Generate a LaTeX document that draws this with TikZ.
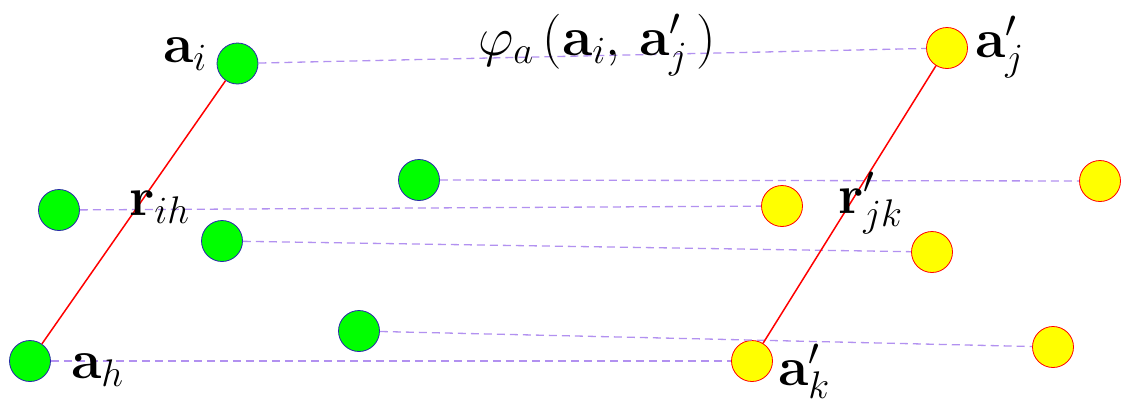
\RequirePackage{fix-cm}
\documentclass[tikz,border=0pt]{standalone}
\usepackage{amsmath}
\definecolor{lav}{RGB}{178,145,240}
\definecolor{grn}{RGB}{0,255,0}
\definecolor{ylw}{RGB}{255,255,0}
\definecolor{dblue}{RGB}{40,40,170}
\tikzset{
  gnode/.style={circle,fill=grn,draw=dblue,line width=0.8pt,minimum size=41pt,inner sep=0pt},
  ynode/.style={circle,fill=ylw,draw=red,line width=0.8pt,minimum size=41pt,inner sep=0pt},
  link/.style={draw=lav,line width=1.3pt,dash pattern=on 8pt off 5pt},
  edge/.style={draw=red,line width=1.5pt},
  lbl/.style={anchor=base west,inner sep=0pt,font=\fontsize{55}{62}\selectfont},
  flbl/.style={anchor=base west,inner sep=0pt,font=\fontsize{55}{62}\selectfont}
}
\begin{document}
\begin{tikzpicture}[x=1pt,y=-1pt]
\useasboundingbox (0,0) rectangle (1122,408);
% green nodes
\node[gnode] (ai) at (237.5,63.5) {};
\node[gnode] (g2) at (59,210) {};
\node[gnode] (g3) at (419,180) {};
\node[gnode] (g4) at (222,241) {};
\node[gnode] (ah) at (30,361) {};
\node[gnode] (g6) at (359,331) {};
% yellow nodes
\node[ynode] (aj) at (947,48) {};
\node[ynode] (y2) at (1100,181) {};
\node[ynode] (y3) at (782,206) {};
\node[ynode] (y4) at (932,252) {};
\node[ynode] (ak) at (752,361) {};
\node[ynode] (y6) at (1053,347) {};
% connectors
\draw[link] (ai) -- (aj);
\draw[link] (g2) -- (y3);
\draw[link] (g3) -- (y2);
\draw[link] (g4) -- (y4);
\draw[link] (ah) -- (ak);
\draw[link] (g6) -- (y6);
\draw[edge] (ai) -- (ah);
\draw[edge] (aj) -- (ak);
% labels
\node[lbl] (lai) at (163,62) {$\mathbf{a}_i$};
\node[lbl] (laj) at (975,57) {$\mathbf{a}'_j$};
\node[lbl] (lrih) at (129,215) {$\mathbf{r}_{ih}$};
\node[lbl] (lrjk) at (838,213) {$\mathbf{r}'_{jk}$};
\node[lbl] (lah) at (71,378) {$\mathbf{a}_h$};
\node[lbl] (lak) at (778,385) {$\mathbf{a}'_k$};
\node[flbl] (lphi) at (478,55) {$\varphi_a\,(\mathbf{a}_i,\,\mathbf{a}'_j\,)$};
\end{tikzpicture}
\end{document}
